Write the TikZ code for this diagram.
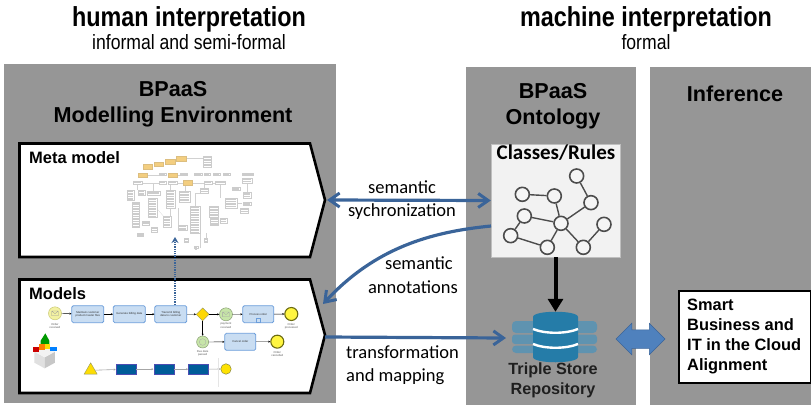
\documentclass[tikz,border=0pt]{standalone}
\usepackage{fontspec}
\setmainfont{Liberation Sans}
\newfontfamily\narrowf[FakeStretch=0.85]{Liberation Sans}
\newfontfamily\carl{Carlito}
\usetikzlibrary{arrows.meta,shapes.geometric,shapes.arrows,calc}
\definecolor{panel}{HTML}{969696}
\definecolor{conn}{HTML}{3A6499}
\definecolor{conarrowfill}{HTML}{4F81BD}
\definecolor{dbdark}{HTML}{257CA8}
\definecolor{dbback}{HTML}{5F93B0}
\definecolor{taskfill}{HTML}{C9DDF2}
\definecolor{taskline}{HTML}{6C9EDB}
\definecolor{evy}{HTML}{F3F1A2}
\definecolor{evg}{HTML}{C7E5A8}
\definecolor{olive}{HTML}{6B6B10}
\definecolor{orangebox}{HTML}{F3CE80}
\tikzset{
  panelbox/.style={fill=panel,draw=none},
  sign/.style={fill=white,draw=black,line width=2.6pt,miter limit=10},
  heading/.style={font=\narrowf\bfseries\fontsize{27.5}{30}\selectfont,inner sep=0pt},
  subheading/.style={font=\narrowf\fontsize{20.7}{24}\selectfont,inner sep=0pt},
  paneltitle/.style={font=\bfseries\fontsize{21.6}{26.5}\selectfont,align=center,inner sep=0pt},
  signtitle/.style={font=\bfseries\fontsize{16.5}{20}\selectfont,inner sep=0pt,anchor=west},
  edgelabel/.style={font=\carl\fontsize{18.5}{23.5}\selectfont,inner sep=0pt},
  barb/.style={Straight Barb[length=10pt,width=14pt,line width=3pt]},
  conarrow/.style={draw=conn,line width=3.2pt,-{Straight Barb[length=10pt,width=14pt,line width=3pt]}},
  ontonode/.style={circle,draw=black!70,line width=1.6pt,fill=black!4,minimum size=14pt,inner sep=0pt},
  ontoedge/.style={draw=black!70,line width=1.4pt},
  orangeb/.style={fill=orangebox,draw=orangebox!80!gray,line width=.2pt},
  metab/.style={fill=white,draw=black!20,line width=.2pt},
  metatext/.style={draw=black!20,line width=.25pt},
  metaline/.style={draw=black!18,line width=.2pt},
  task/.style={rectangle,rounded corners=1.5pt,fill=taskfill,draw=taskline,line width=.8pt,font=\fontsize{2.8}{3.2}\selectfont,align=center,inner sep=0pt,text=black!80},
  bluetask/.style={rectangle,fill=blue!40!cyan!60!black,draw=blue!40!gray,line width=.3pt,inner sep=0pt},
  startev/.style={circle,fill=evy,draw=evy!70!olive,line width=.5pt,minimum size=13pt,inner sep=0pt},
  greenev/.style={circle,fill=evg,draw=evg!70!black,line width=.5pt,minimum size=13pt,inner sep=0pt},
  endev/.style={circle,fill=yellow!75!white,draw=olive,line width=1.1pt,minimum size=13pt,inner sep=0pt},
  flow/.style={draw=black,line width=.4pt,-{Stealth[length=2pt,width=2pt]}},
  grayflow/.style={draw=black!35,line width=.6pt,-{Stealth[length=2pt,width=2pt]}},
  tinylabel/.style={font=\fontsize{2.8}{3.2}\selectfont,align=center,inner sep=0pt,text=black!65},
}
\begin{document}
\begin{tikzpicture}[x=1pt,y=-1pt]
\useasboundingbox (0,0) rectangle (811,405);
% headings
\node[heading] (h1) at (189,19) {human interpretation};
\node[subheading] (s1) at (189,42) {informal and semi-formal};
\node[heading] (h2) at (646,19) {machine interpretation};
\node[subheading] (s2) at (646,42) {formal};
% panels
\fill[panelbox] (4,64) rectangle (336,403);
\fill[panelbox] (466,67) rectangle (636,405);
\fill[panelbox] (650,67) rectangle (811,405);
\node[paneltitle] (t1) at (173,104) {BPaaS\\Modelling Environment};
\node[paneltitle] (t2) at (553,106) {BPaaS\\Ontology};
\node[paneltitle] (t3) at (735,94) {Inference};
% signs
\draw[sign] (19.5,143.5) -- (310,143.5) -- (325,200) -- (310,257) -- (19.5,257) -- cycle;
\coordinate (metatip) at (327,200);
\draw[sign] (19.5,279.5) -- (310,279.5) -- (325,335) -- (310,393) -- (19.5,393) -- cycle;
\coordinate (modeltip) at (325,337);
\coordinate (modelupper) at (323,304);
\node[signtitle] (mm) at (29,158) {Meta model};
\node[signtitle] (mo) at (29,294) {Models};
% meta model picture
\begin{scope}[yshift=-130pt,x=.3333pt,y=-.3333pt]
\foreach \a/\b/\c/\d in {557/85/608/85,441/135/478/135,530/135/540/135,425/158/478/158,530/158/548/158,575/158/612/158,636/158/646/158,412/162/412/180,458/162/458/182,510/162/510/180,555/164/555/183,612/162/612/175,660/162/660/205,740/158/740/185,585/228/585/190,585/190/600/190,535/235/535/285,510/235/510/258,600/355/600/310,618/310/618/335,710/220/725/220,470/235/490/258}
  \draw[metaline] (\a,\b) -- (\c,\d);
\foreach \a/\b/\c/\d in {608/78/634/112,478/128/498/136,540/128/562/136,583/128/605/136,612/128/630/136,640/128/660/136,668/128/690/136,725/128/760/135,400/153/425/162,478/153/498/162,505/153/530/162,612/153/636/162,646/153/676/162,725/145/755/158,382/180/402/210,440/182/480/195,497/180/525/235,538/183/570/215,600/175/625/190,415/180/435/195,395/215/418/290,445/205/470/260,570/228/600/310,628/228/655/260,675/205/710/235,695/170/720/180,730/185/752/205,730/215/752/225,720/235/745/250,660/265/680/278,630/265/655/285,490/258/512/290,535/285/560/300,425/272/448/285,452/292/472/305,412/308/430/318,553/325/565/335,612/325/622/335,582/348/594/355}{
  \filldraw[metab] (\a,\b) rectangle (\c,\d);
  \pgfmathsetmacro\ystart{\b+3}
  \pgfmathsetmacro\ysecond{\b+8}
  \pgfmathsetmacro\xa{\a+2}
  \pgfmathsetmacro\xb{\c-2}
  \foreach \y in {\ystart,\ysecond,...,\d}
    \draw[metatext] (\xa,\y) -- (\xb,\y);
}
\foreach \a/\b/\c/\d in {428/103/456/117,462/95/488/107,495/88/525/101,528/79/557/92,413/128/441/141,504/128/530/141,548/151/575/164}
  \filldraw[orangeb] (\a,\b) rectangle (\c,\d);
\end{scope}
% models picture
\begin{scope}[yshift=-270pt,x=.3333pt,y=-.3333pt]
\node[startev] (ev1) at (165,130) {};
\draw[black!40,line width=.3pt] (155,123) rectangle (175,137) (155,123) -- (165,131) -- (175,123);
\node[tinylabel] (l1) at (165,168) {Order\\received};
\node[task,minimum width=32pt,minimum height=17pt] (t1a) at (263.5,132.5) {Maintain customer\\product master files};
\node[task,minimum width=32pt,minimum height=17pt] (t1b) at (388,132.5) {Generate billing data};
\node[task,minimum width=32pt,minimum height=17pt] (t1c) at (512.5,132.5) {Transmit billing\\data to customer};
\node[diamond,fill=yellow!75!orange,draw=olive!70,line width=.4pt,minimum size=13pt,inner sep=0pt] (gw) at (608,133) {};
\node[greenev] (ev2) at (678,133) {};
\draw[black!35,line width=.3pt] (668,126) rectangle (688,140) (668,126) -- (678,134) -- (688,126);
\node[tinylabel] (l2) at (678,167) {payment\\received};
\node[task,minimum width=31pt,minimum height=17pt] (t1d) at (775,132.5) {Process order};
\draw[taskline,line width=.3pt] (770,145) rectangle (780,155);
\node[endev] (ev3) at (874,132) {};
\node[tinylabel] (l3) at (874,168) {Order\\processed};
\node[greenev,minimum size=12pt] (ev4) at (608,216) {};
\draw[black!35,line width=.3pt] (608,216) circle (10);
\node[tinylabel] (l4) at (608,251) {Due date\\passed};
\node[task,minimum width=31pt,minimum height=17pt] (t1e) at (721,215.5) {Cancel order};
\node[endev] (ev5) at (832,215) {};
\node[tinylabel] (l5) at (832,251) {Order\\cancelled};
\draw[flow] (ev1) -- (t1a);
\draw[flow] (t1a) -- (t1b);
\draw[flow] (t1b) -- (t1c);
\draw[flow] (t1c) -- (gw);
\draw[flow] (gw) -- (ev2);
\draw[flow] (ev2) -- (t1d);
\draw[flow] (t1d) -- (ev3);
\draw[flow] (gw) -- (ev4);
\draw[flow] (ev4) -- (t1e);
\draw[flow] (t1e) -- (ev5);
% lower row
\node[regular polygon,regular polygon sides=3,fill=yellow!80!orange,draw=olive!70,line width=.4pt,minimum size=15pt,inner sep=0pt] (s0) at (272,301) {};
\node[bluetask,minimum width=20pt,minimum height=10.5pt] (b1) at (377.5,297.5) {};
\node[bluetask,minimum width=20pt,minimum height=10.5pt] (b2) at (491,297.5) {};
\node[bluetask,minimum width=20pt,minimum height=10.5pt] (b3) at (595,297.5) {};
\node[circle,fill=yellow!85!orange,draw=olive!80,line width=.5pt,minimum size=10.5pt,inner sep=0pt] (e0) at (678,297) {};
\draw[grayflow] (s0) -- (b1);
\draw[grayflow] (b1) -- (b2);
\draw[grayflow] (b2) -- (b3);
\draw[grayflow] (b3) -- (e0);
\draw[black!10,line width=.3pt] (655,265) -- (655,350);
% cube icon
\fill[black!12] (103,245) -- (134,262) -- (134,295) -- (103,278) -- cycle;
\fill[black!22] (134,262) -- (165,245) -- (165,278) -- (134,295) -- cycle;
\fill[black!5] (103,245) -- (134,230) -- (165,245) -- (134,262) -- cycle;
\fill[green!60!black] (122,212) -- (136,190) -- (148,212) -- (148,228) -- (122,228) -- cycle;
\fill[red!80!black] (100,232) rectangle (116,245);
\fill[orange] (116,222) rectangle (135,240);
\fill[yellow!80!orange] (135,222) rectangle (150,238);
\fill[blue!50!cyan] (150,230) rectangle (170,244);
\end{scope}
% dotted arrow
\coordinate (dotstart) at (175,305);
\coordinate (dotend) at (175,237);
\draw[conn,line width=1.3pt,densely dotted,-{Stealth[length=6pt,width=7pt]}] (dotstart) -- (dotend);
% classes box
\node[fill=black!5,draw=black!25,line width=.4pt,minimum width=129pt,minimum height=113pt,inner sep=0pt] (classes) at (555.5,200.5) {};
\node[font=\carl\bfseries\fontsize{21}{26}\selectfont,inner sep=0pt] (classlabel) at (556,153) {Classes/Rules};
\begin{scope}[yshift=-130pt,xshift=470pt,x=.3333pt,y=-.3333pt]
\node[ontonode] (a) at (320,138) {};
\node[ontonode] (b) at (363,218) {};
\node[ontonode] (c) at (273,280) {};
\node[ontonode] (d) at (253,198) {};
\node[ontonode] (e) at (157,193) {};
\node[ontonode] (f) at (163,258) {};
\node[ontonode] (g) at (122,317) {};
\node[ontonode] (h) at (232,352) {};
\node[ontonode] (i) at (340,352) {};
\node[ontonode] (j) at (402,283) {};
\foreach \p/\q in {a/b,b/c,c/d,d/e,c/f,f/g,g/h,h/c,c/i,i/j}
  \draw[ontoedge] (\p) -- (\q);
\end{scope}
% database
\fill[dbback,rounded corners=4pt] (512,321) rectangle (597,333);
\fill[dbback,rounded corners=3pt] (512,334.5) rectangle (597,344);
\fill[dbback,rounded corners=4pt] (512,345.5) rectangle (597,353);
\node[minimum width=45pt,minimum height=50pt,inner sep=0pt] (db) at (555.5,337) {};
\fill[dbdark] (533,317) .. controls (533,310) and (578,310) .. (578,317) -- (578,357) .. controls (578,364) and (533,364) .. (533,357) -- cycle;
\draw[white,line width=2.4pt] (533,329) .. controls (545,334) and (566,334) .. (578,329);
\draw[white,line width=2.4pt] (533,344) .. controls (545,349) and (566,349) .. (578,344);
\node[font=\bfseries\fontsize{16.2}{20}\selectfont,align=center,inner sep=0pt,text=black!88] (tsr) at (553,380) {Triple Store\\Repository};
% smart box
\node[draw=black,line width=2pt,fill=white,minimum width=132pt,minimum height=92pt,inner sep=0pt] (smart) at (745,337) {};
\node[font=\bfseries\fontsize{16.4}{20}\selectfont,align=left,inner sep=0pt,anchor=west] (smarttext) at (687,336.5) {Smart\\Business and\\IT in the Cloud\\Alignment};
% double arrow
\node[double arrow,fill=conarrowfill,draw=conn,line width=.5pt,minimum height=49pt,double arrow head extend=6.5pt,inner sep=0pt] (link) at (640.5,339) {\rule{0pt}{18pt}};
% connectors
\draw[conarrow,{Straight Barb[length=10pt,width=14pt,line width=3pt]}-{Straight Barb[length=10pt,width=14pt,line width=3pt]}] (metatip) -- (classes.west);
\coordinate (annstart) at (491,226);
\draw[conarrow] (annstart) .. controls (430,232) and (375,248) .. (modelupper);
\coordinate (dbin) at (506,338);
\draw[conarrow] (modeltip) -- (dbin);
\draw[line width=4pt,-{Triangle[length=13pt,width=15pt]}] (classes.south -| db.north) -- (db.north);
% labels
\node[edgelabel,align=center] (l1x) at (402,200) {semantic\\sychronization};
\node[edgelabel,align=right,anchor=east] (l2x) at (458,275) {semantic\hspace*{5pt}\\annotations};
\node[edgelabel,align=left,anchor=west] (l3x) at (346,365) {transformation\\and mapping};
\end{tikzpicture}
\end{document}
